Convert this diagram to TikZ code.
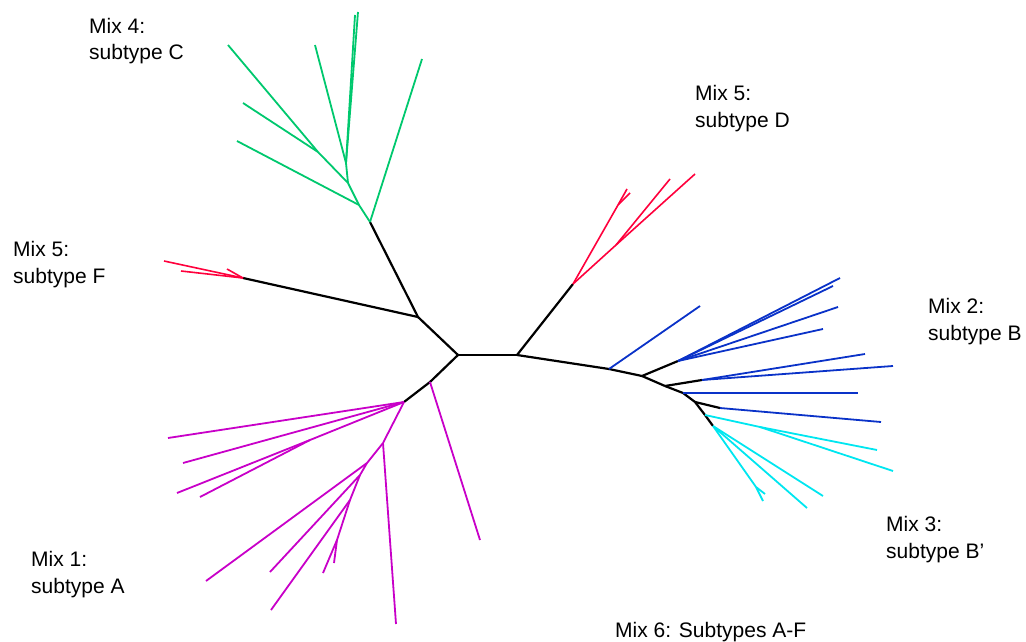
\documentclass[tikz,border=0pt]{standalone}
\usepackage{fontspec}
\setmainfont{Liberation Sans}
\definecolor{mixgreen}{RGB}{0,200,110}
\definecolor{mixred}{RGB}{255,0,60}
\definecolor{mixblue}{RGB}{10,50,200}
\definecolor{mixcyan}{RGB}{0,230,240}
\definecolor{mixmagenta}{RGB}{200,0,200}
\tikzstyle{junction}=[coordinate]
\tikzstyle{edge} = [draw,line width=2.2pt,-,black]
\tikzstyle{green edge} = [edge,line width=1.8pt,mixgreen]
\tikzstyle{red edge} = [edge,line width=1.6pt,mixred]
\tikzstyle{blue edge} = [edge,line width=1.8pt,mixblue]
\tikzstyle{cyan edge} = [edge,line width=1.8pt,mixcyan]
\tikzstyle{magenta edge} = [edge,line width=1.8pt,mixmagenta]
\tikzstyle{mixtext} = [anchor=base west,align=left,inner sep=0pt,font=\fontsize{21}{26.5}\selectfont]

\begin{document}
\begin{tikzpicture}[x=1pt,y=-1pt]
    \useasboundingbox (0,0) rectangle (1026,642);
    % inner junctions
    \foreach \pos/\name in {{(458,355)/cl}, {(517,355)/cr}, {(418,317)/ul}, {(370,222)/gr},
                            {(243,278)/fr}, {(430,382)/ll}, {(404,402)/ar}, {(573,284)/dr},
                            {(609,369)/b0}, {(642,376)/b1}, {(678,361)/b2}, {(665,386)/b3},
                            {(702,380)/b4}, {(683,393)/bh}, {(695,402)/b5}, {(705,415)/cy},
                            {(713,426)/b7}, {(720,408)/b6}}
        \node[junction] (\name) at \pos {};
    \foreach \pos/\name in {{(359,205)/g1}, {(348,183)/g2}, {(346,163)/g3}, {(318,152)/g4},
                            {(618,205)/d1}, {(616,245)/d2}, {(760,427)/c1}, {(756,487)/c2},
                            {(310,440)/ma}, {(383,443)/m1}, {(367,463)/m2}, {(360,475)/m3},
                            {(350,500)/m4}, {(337,540)/m5}}
        \node[junction] (\name) at \pos {};
    % leaves
    \foreach \pos/\name in {{(422,59)/gt1}, {(237,141)/gt2}, {(358,12)/gt3}, {(355,15)/gt4},
                            {(315,45)/gt5}, {(243,103)/gt6}, {(228,45)/gt7},
                            {(164,261)/ft1}, {(181,271)/ft2}, {(227,269)/ft3},
                            {(627,189)/dt1}, {(630,193)/dt2}, {(670,179)/dt3}, {(695,174)/dt4},
                            {(700,306)/bt1}, {(840,278)/bt2}, {(833,286)/bt3}, {(838,307)/bt4},
                            {(823,329)/bt5}, {(865,354)/bt6}, {(893,366)/bt7}, {(858,393)/bt8},
                            {(881,422)/bt9},
                            {(877,450)/ct1}, {(893,471)/ct2}, {(763,501)/ct3}, {(765,494)/ct4},
                            {(807,508)/ct5}, {(823,496)/ct6},
                            {(480,540)/mt1}, {(168,438)/mt2}, {(183,463)/mt3}, {(177,493)/mt4},
                            {(200,497)/mt5}, {(396,624)/mt6}, {(206,581)/mt7}, {(270,572)/mt8},
                            {(271,610)/mt9}, {(323,573)/mt10}, {(334,563)/mt11}}
        \node[junction] (\name) at \pos {};

    \foreach \source/\dest in {cl/cr, cl/ul, ul/gr, ul/fr, cl/ll, ll/ar, cr/dr, cr/b0,
                               b0/b1, b1/b2, b1/b3, b3/b4, b3/bh, bh/b5, b5/b6, b5/cy, cy/b7}
        \path[edge] (\source) -- (\dest);
    \foreach \source/\dest in {gr/gt1, gr/g1, g1/gt2, g1/g2, g2/g3, g3/gt3, g3/gt4, g3/gt5,
                               g2/g4, g4/gt6, g4/gt7}
        \path[green edge] (\source) -- (\dest);
    \foreach \source/\dest in {fr/ft1, fr/ft2, fr/ft3, dr/d1, d1/dt1, d1/dt2, dr/d2, d2/dt3, d2/dt4}
        \path[red edge] (\source) -- (\dest);
    \foreach \source/\dest in {b0/bt1, b2/bt2, b2/bt3, b2/bt4, b2/bt5, b4/bt6, b4/bt7,
                               bh/bt8, b6/bt9}
        \path[blue edge] (\source) -- (\dest);
    \foreach \source/\dest in {cy/c1, c1/ct1, c1/ct2, b7/c2, c2/ct3, c2/ct4, b7/ct5, b7/ct6}
        \path[cyan edge] (\source) -- (\dest);
    \foreach \source/\dest in {ll/mt1, ar/mt2, ar/mt3, ar/ma, ma/mt4, ma/mt5, ar/m1, m1/mt6,
                               m1/m2, m2/mt7, m2/m3, m3/mt8, m3/m4, m4/mt9, m4/m5,
                               m5/mt10, m5/mt11}
        \path[magenta edge] (\source) -- (\dest);

    % labels sit on the baseline of their last line
    \node[mixtext] (mixC) at (89,60) {Mix 4:\\subtype C};
    \node[mixtext] (mixD) at (695,127) {Mix 5:\\subtype D};
    \node[mixtext] (mixF) at (13,283) {Mix 5:\\subtype F};
    \node[mixtext] (mixB) at (928,340) {Mix 2:\\subtype B};
    \node[mixtext] (mixBp) at (886,558) {Mix 3:\\subtype B’};
    \node[mixtext] (mixA) at (31,593) {Mix 1:\\subtype A};
    \node[mixtext] (mixAF) at (615,637) {Mix 6: Subtypes A-F};
\end{tikzpicture}
\end{document}
